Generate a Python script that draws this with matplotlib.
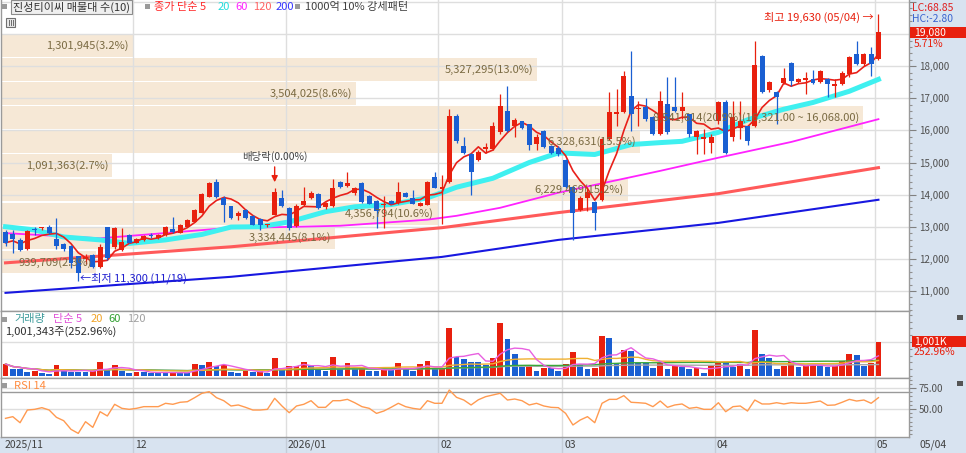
import numpy as np
import pandas as pd
import matplotlib
matplotlib.use("Agg")
import matplotlib.pyplot as plt
import matplotlib.transforms as mtransforms
from matplotlib.patches import Rectangle
from matplotlib.ticker import FuncFormatter, MultipleLocator, FixedLocator

plt.rcParams["font.family"] = ["Noto Sans CJK KR", "DejaVu Sans"]

W, H = 966, 453

# === 일봉 데이터 (2025/11/05 ~ 2026/05/04) ===
opens = [12830, 12780, 12590, 12300, 12920, 12950, 13000, 12620, 12470, 12400,
         12090, 12010, 12120, 11740, 13000, 12380, 12280, 12750, 12500, 12600,
         12740, 12650, 12750, 12940, 12820, 13000, 13160, 13440, 13940, 14400,
         13900, 13630, 13340, 13530, 13340, 13250, 13040, 13380, 13900, 13590,
         13030, 13690, 13900, 14030, 13600, 13630, 14400, 14280, 14060, 14370,
         13970, 13810, 13680, 13810, 13750, 14060, 13900, 13660, 13690, 14560,
         14160, 14400, 16440, 15500, 15250, 15090, 15410, 15410, 15940, 16590,
         16130, 16280, 16190, 15590, 15970, 15500, 15440, 15090, 14250, 13530,
         13910, 13780, 13840, 15720, 16500, 16560, 17060, 16660, 16720, 16410,
         15880, 16810, 16720, 16600, 16500, 15810, 15720, 15620, 16300, 16880,
         15780, 16090, 16130, 16130, 18310, 17250, 17190, 17470, 18090, 17500,
         17560, 17590, 17500, 17590, 17380, 17440, 17750, 18370, 18060, 18370,
         18220]
highs = [12900, 12900, 12650, 12900, 13000, 13000, 13050, 13280, 12500, 12420,
         12100, 12150, 12150, 12450, 13000, 13000, 12970, 12780, 12650, 12750,
         12800, 12780, 13020, 13310, 13080, 13250, 13560, 14060, 14400, 14500,
         13950, 13660, 13500, 13560, 13360, 13270, 13100, 14200, 14150, 13600,
         13700, 14250, 14100, 14060, 13780, 14500, 14420, 14720, 14250, 14400,
         14000, 13830, 13950, 13840, 14400, 14080, 14150, 13780, 14420, 14700,
         14600, 16660, 16500, 15800, 15300, 15400, 15600, 16250, 17125, 17380,
         16400, 16300, 16210, 15880, 16000, 15550, 15500, 15120, 14280, 13950,
         14250, 13800, 15750, 17190, 17280, 17840, 18470, 16910, 17000, 16450,
         17220, 17650, 17660, 17190, 16520, 16000, 16030, 15880, 16910, 16950,
         16910, 16910, 16150, 18780, 18340, 17550, 17220, 17940, 18120, 17620,
         17810, 17870, 17870, 17620, 17590, 17840, 18310, 18780, 18400, 18590,
         19630]
lows = [12400, 12190, 12250, 12280, 12750, 12900, 12780, 12300, 12250, 11720,
        11300, 11850, 11700, 11720, 11950, 12300, 12250, 12480, 12480, 12550,
        12650, 12620, 12720, 12820, 12800, 12980, 13140, 13420, 13920, 13900,
        13160, 13250, 13200, 13250, 13040, 12900, 12980, 13350, 13600, 12900,
        13000, 13650, 13850, 13560, 13550, 13600, 14200, 14250, 14000, 13750,
        13700, 12970, 12970, 13700, 13720, 13920, 13700, 13640, 13670, 14200,
        13100, 14350, 15600, 15280, 14000, 15050, 15300, 15380, 15900, 15950,
        15800, 16050, 15400, 15400, 15450, 15280, 15200, 14200, 12590, 13500,
        13500, 12900, 13800, 15700, 16130, 16540, 15970, 16130, 16300, 15850,
        15850, 15900, 16580, 16340, 15780, 15250, 15250, 15310, 16200, 15250,
        15660, 15720, 15560, 16100, 17150, 17200, 16190, 17440, 17380, 17480,
        17120, 17440, 17480, 17030, 17030, 17420, 17670, 18030, 18000, 17690,
        18200]
closes = [12500, 12620, 12280, 12880, 12890, 12980, 12810, 12400, 12310, 11870,
          11560, 12050, 11750, 12380, 12030, 12970, 12530, 12500, 12620, 12700,
          12710, 12740, 13000, 12840, 13060, 13220, 13530, 14030, 14370, 13940,
          13690, 13280, 13440, 13280, 13060, 13060, 13080, 14090, 13630, 12970,
          13660, 13810, 14060, 13590, 13750, 14220, 14250, 14370, 14220, 13780,
          13720, 13500, 13700, 13720, 14090, 13940, 13720, 13750, 14400, 14220,
          14250, 16440, 15660, 15310, 14690, 15340, 15470, 16130, 16750, 15970,
          16310, 16090, 15560, 15780, 15470, 15310, 15250, 14250, 13440, 13910,
          14090, 13440, 15720, 16560, 16560, 17690, 16500, 16690, 16340, 15880,
          16910, 15940, 16600, 16720, 15880, 15970, 15810, 15810, 16900, 15310,
          16410, 16280, 15660, 18030, 17190, 17500, 17030, 17630, 17530, 17590,
          17630, 17470, 17840, 17440, 17440, 17780, 18280, 18060, 18370, 18060,
          19080]

# 거래량 (천주)
volumes_k = [353, 206, 196, 127, 157, 78, 59, 314, 157, 127,
             118, 108, 176, 402, 196, 323, 147, 78, 127, 110,
             100, 96, 92, 108, 98, 80, 343, 323, 402, 304,
             323, 127, 78, 147, 127, 147, 98, 520, 196, 294,
             300, 402, 323, 206, 157, 549, 206, 372, 206, 225,
             147, 145, 196, 176, 372, 206, 147, 343, 441, 196,
             216, 1421, 568, 500, 421, 402, 323, 520, 1548, 1078,
             637, 255, 304, 147, 245, 225, 157, 343, 715, 323,
             206, 245, 1186, 1107, 372, 764, 735, 392, 390, 245,
             392, 206, 294, 274, 206, 225, 78, 304, 392, 372,
             274, 353, 206, 1352, 637, 520, 206, 304, 402, 274,
             304, 310, 300, 274, 280, 441, 647, 617, 304, 396,
             1001]

rsi14 = [38.9, 40.9, 33.7, 48.8, 49.6, 51.6, 48.8, 40.1, 36.1, 25.8,
         21.0, 34.9, 28.2, 46.8, 41.7, 55.6, 50.8, 49.6, 50.8, 52.8,
         52.8, 52.8, 56.8, 55.6, 58.0, 58.7, 63.5, 68.7, 70.6, 63.5,
         59.9, 53.6, 54.8, 52.0, 48.8, 48.8, 49.6, 62.7, 53.6, 45.6,
         53.6, 55.6, 59.9, 52.0, 52.0, 59.9, 59.9, 61.5, 57.5, 52.8,
         50.8, 44.8, 47.6, 52.0, 56.8, 52.8, 50.8, 49.6, 59.9, 56.8,
         56.8, 72.6, 63.9, 60.7, 54.8, 61.0, 64.7, 66.7, 68.7, 60.7,
         61.9, 59.9, 54.8, 56.8, 53.6, 52.0, 51.6, 44.8, 31.0, 36.9,
         40.9, 33.7, 56.8, 61.5, 61.5, 65.9, 58.0, 57.5, 56.8, 52.8,
         59.5, 52.0, 54.8, 56.0, 50.8, 52.0, 49.6, 49.6, 57.5, 46.8,
         52.8, 53.6, 47.6, 60.7, 56.0, 56.0, 57.5, 56.0, 57.5, 56.8,
         56.8, 58.0, 59.5, 54.4, 54.8, 58.0, 61.5, 59.5, 60.7, 56.8,
         63.5]

# 이동평균선 (그림에서 읽은 값: 봉 번호, 가격)
ma20_idx = [0, 4, 8, 13, 17, 22, 27, 31, 35, 39, 44, 48, 53, 58, 62, 67, 72, 76,
            81, 86, 90, 93, 98, 102, 107, 111, 116, 120]
ma20_val = [13000, 12900, 12680, 12590, 12480, 12590, 12760, 12990, 13000, 13150,
            13470, 13620, 13690, 13900, 14230, 14510, 15000, 15300, 15250, 15560,
            15620, 15660, 15940, 16330, 16660, 16870, 17220, 17590]
ma60_idx = [0, 13, 30, 46, 58, 62, 68, 76, 90, 98, 108, 120]
ma60_val = [12800, 12640, 12950, 13030, 13220, 13340, 13590, 14060, 14740, 15150,
            15640, 16350]
ma120_idx = [0, 31, 60, 76, 98, 120]
ma120_val = [11875, 12375, 12970, 13440, 14030, 14840]
ma200_idx = [0, 31, 60, 76, 98, 120]
ma200_val = [10940, 11440, 12060, 12590, 13120, 13840]

# 매물대 (10개 구간)
band_tops = [19000, 18250, 17500, 16750, 16000, 15250, 14500, 13750, 13000, 12250]
band_pct = [3.2, 13.0, 8.6, 20.9, 15.5, 2.7, 15.2, 10.6, 8.1, 2.3]
band_labels = ["1,301,945(3.2%)", "5,327,295(13.0%)", "3,504,025(8.6%)",
               "8,541,614(20.9%)(16,321.00 ~ 16,068.00)", "6,328,631(15.5%)",
               "1,091,363(2.7%)", "6,229,469(15.2%)", "4,356,794(10.6%)",
               "3,334,445(8.1%)", "939,709(2.3%)"]

month_starts = [0, 18, 39, 60, 77, 98, 120]
month_labels = ["2025/11", "12", "2026/01", "02", "03", "04", "05"]

RED = "#e8200e"
BLUE = "#1a5fd2"
GRID = "#dedede"
SIDE = "#d8e3f0"


def fig_box(x0, y0, x1, y1):
    return [x0 / W, 1 - y1 / H, (x1 - x0) / W, (y1 - y0) / H]


def ftext(fig, x, y, s, **kw):
    kw.setdefault("va", "center")
    kw.setdefault("fontsize", 7.5)
    return fig.text(x / W, 1 - y / H, s, **kw)


def frect(fig, x0, y0, x1, y1, **kw):
    r = Rectangle((x0 / W, 1 - y1 / H), (x1 - x0) / W, (y1 - y0) / H,
                  transform=fig.transFigure, **kw)
    fig.add_artist(r)
    return r


def style_axes(ax, xlim):
    ax.set_xlim(*xlim)
    ax.yaxis.tick_right()
    ax.tick_params(axis="x", bottom=False, labelbottom=False)
    ax.tick_params(axis="y", which="major", length=5, width=0.8, colors="#808080",
                   labelcolor="#505050", labelsize=7, pad=2)
    ax.tick_params(axis="y", which="minor", length=2, width=0.8, colors="#909090")
    for s in ax.spines.values():
        s.set_color("#9a9a9a")
        s.set_linewidth(1)
    for m in month_starts[1:]:
        ax.axvline(m - 0.5, color=GRID, lw=1, zorder=1)


def main():
    idx = np.arange(len(closes))
    o = np.array(opens)
    c = np.array(closes)
    up = c >= o
    cols = np.where(up, RED, BLUE)
    xlim = (-0.62, 124.2)

    fig = plt.figure(figsize=(W / 100, H / 100), dpi=100)
    fig.patch.set_facecolor("white")

    # 배경 (오른쪽 축, 날짜 줄)
    frect(fig, 909, 0, W, H, facecolor=SIDE, edgecolor="none", zorder=-5)
    frect(fig, 0, 437, W, H, facecolor=SIDE, edgecolor="none", zorder=-5)

    ax = fig.add_axes(fig_box(1, 0, 909, 311))
    ax_v = fig.add_axes(fig_box(1, 311, 909, 378))
    ax_r = fig.add_axes(fig_box(1, 378, 909, 437))

    # === 가격 차트 ===
    style_axes(ax, xlim)
    ax.set_ylim(10375, 20062)
    ax.spines["top"].set_visible(False)
    ax.yaxis.set_major_locator(MultipleLocator(1000))
    ax.yaxis.set_minor_locator(MultipleLocator(200))
    ax.yaxis.set_major_formatter(FuncFormatter(lambda v, p: f"{v:,.0f}" if v < 18500 else ""))
    ax.grid(axis="y", which="major", color=GRID, lw=1, zorder=1)

    # 매물대
    btrans = mtransforms.blended_transform_factory(ax.transAxes, ax.transData)
    full = (863 - 1) / 908
    for top, pct, lab in zip(band_tops, band_pct, band_labels):
        wdt = pct / max(band_pct) * full
        ax.add_patch(Rectangle((0, top - 700), wdt, 700, transform=btrans,
                               facecolor="#f6e8d6", edgecolor="none", zorder=0.5))
        ax.text(wdt - 4 / 908, top - 350, lab, transform=btrans, ha="right", va="center",
                fontsize=8, color="#7a6a42", zorder=10)

    # 이동평균선
    ma5 = pd.Series(closes).rolling(5, min_periods=1).mean()
    ax.plot(ma200_idx, ma200_val, color="#1818e0", lw=1.5, zorder=2)
    ax.plot(ma120_idx, ma120_val, color="#ff5a5a", lw=2.2, zorder=2)
    ax.plot(ma60_idx, ma60_val, color="#ff22ff", lw=1.3, zorder=2)
    ax.plot(ma20_idx, ma20_val, color="#3ff0f0", lw=3.6, zorder=2.2)
    ax.plot(idx, ma5, color="#e8201a", lw=1.2, zorder=3.6)

    # 캔들
    ax.vlines(idx, lows, highs, colors=cols, lw=0.9, zorder=4)
    ax.bar(idx, np.maximum(np.abs(c - o), 35), bottom=np.minimum(o, c), width=0.68,
           color=cols, edgecolor="none", zorder=4.2)

    # 배당락 표시
    ax.annotate("", xy=(37, 14300), xytext=(37, 14950),
                arrowprops=dict(arrowstyle="-|>", color=RED, lw=1, mutation_scale=9), zorder=6)
    ax.text(37, 15180, "배당락(0.00%)", ha="center", va="center", fontsize=7.5,
            color="#404040", zorder=10)

    # === 거래량 ===
    style_axes(ax_v, xlim)
    ax_v.set_ylim(-59, 1914)
    ax_v.yaxis.set_major_locator(FixedLocator([1000]))
    ax_v.yaxis.set_minor_locator(MultipleLocator(200))
    ax_v.yaxis.set_major_formatter(FuncFormatter(lambda v, p: ""))
    ax_v.grid(axis="y", which="major", color=GRID, lw=1, zorder=1)
    vol = np.array(volumes_k)
    vcols = [RED] + [RED if vol[i] >= vol[i - 1] else BLUE for i in range(1, len(vol))]
    ax_v.bar(idx, vol, width=0.8, color=vcols, edgecolor="none", zorder=3)
    vs = pd.Series(volumes_k)
    for n, colr in [(120, "#a8a8a8"), (60, "#3aa83a"), (20, "#f0b030"), (5, "#e860e0")]:
        ax_v.plot(idx, vs.rolling(n, min_periods=1).mean(), color=colr, lw=1, zorder=4)

    # === RSI ===
    style_axes(ax_r, xlim)
    ax_r.set_ylim(16.7, 86.9)
    ax_r.yaxis.set_major_locator(FixedLocator([50, 75]))
    ax_r.yaxis.set_minor_locator(MultipleLocator(5))
    ax_r.yaxis.set_major_formatter(FuncFormatter(lambda v, p: f"{v:.2f}"))
    ax_r.grid(axis="y", which="major", color=GRID, lw=1, zorder=1)
    ax_r.axhline(70, color="#9a9a9a", lw=1, zorder=1.5)
    ax_r.plot(idx, rsi14, color="#ff9a50", lw=1, zorder=3)

    # === 날짜 ===
    dtrans = mtransforms.blended_transform_factory(ax_r.transData, fig.transFigure)
    for m, lab in zip(month_starts, month_labels):
        xm = m - 0.5
        if m > 0:
            ax_r.plot([xm, xm], [1 - 453 / H, 1 - 437 / H], transform=dtrans,
                      color="#c4cdd8", lw=1, clip_on=False)
        ax_r.text(max(xm, xlim[0]) + 0.3, 1 - 445 / H, lab, transform=dtrans,
                  ha="left", va="center", fontsize=7.5, color="#404040")
    ftext(fig, 920, 445, "05/04", color="#404040")

    # === 범례 / 텍스트 ===
    frect(fig, 2, 4, 7, 9, facecolor="#9a9a9a", edgecolor="none")
    ftext(fig, 13, 7, "진성티이씨 매물대 수(10)", color="#333333", fontsize=8,
          bbox=dict(boxstyle="square,pad=0.15", facecolor="#efefef", edgecolor="#8c8c8c", lw=0.8))
    frect(fig, 145, 4, 150, 9, facecolor="#9a9a9a", edgecolor="none")
    ftext(fig, 154, 7, "종가 단순 5", color="#ff2a2a", fontsize=8)
    ftext(fig, 218, 7, "20", color="#22dcdc", fontsize=8)
    ftext(fig, 235, 7, "60", color="#ff22ff", fontsize=8)
    ftext(fig, 253, 7, "120", color="#ff6262", fontsize=8)
    ftext(fig, 276, 7, "200", color="#3535ff", fontsize=8)
    frect(fig, 295, 4, 300, 9, facecolor="#9a9a9a", edgecolor="none")
    ftext(fig, 305, 7, "1000억 10% 강세패턴", color="#404040", fontsize=8)
    frect(fig, 6, 18, 15, 27, facecolor="#e8e8e8", edgecolor="#707070", lw=0.8)
    for xx in (9, 11, 13):
        frect(fig, xx, 20, xx + 0.6, 26, facecolor="#707070", edgecolor="none")

    ftext(fig, 874, 17, "최고 19,630 (05/04) →", color=RED, ha="right", fontsize=8)
    ftext(fig, 80, 278, "←최저 11,300 (11/19)", color="#2020d0", fontsize=8)

    ftext(fig, 912, 8, "LC:68.85", color="#e02020", fontsize=7.5)
    ftext(fig, 912, 19, "HC:-2.80", color="#3a64d0", fontsize=7.5)
    frect(fig, 910, 27, W, 38, facecolor=RED, edgecolor="none")
    ftext(fig, 914, 32.5, "19,080", color="white", fontsize=7.5)
    ftext(fig, 914, 44, "5.71%", color=RED, fontsize=7.5)

    frect(fig, 2, 317, 7, 322, facecolor="#9a9a9a", edgecolor="none")
    ftext(fig, 14, 319, "거래량", color="#3f9c9c", fontsize=8)
    ftext(fig, 53, 319, "단순 5", color="#e050d8", fontsize=8)
    ftext(fig, 91, 319, "20", color="#f0a428", fontsize=8)
    ftext(fig, 108, 319, "60", color="#30a030", fontsize=8)
    ftext(fig, 127, 319, "120", color="#a0a0a0", fontsize=8)
    ftext(fig, 5, 332, "1,001,343주(252.96%)", color="#303030", fontsize=8)
    frect(fig, 912, 336, W, 347, facecolor=RED, edgecolor="none")
    ftext(fig, 914, 341.5, "1,001K", color="white", fontsize=7.5)
    ftext(fig, 914, 352, "252.96%", color=RED, fontsize=7.5)
    frect(fig, 957, 315, 963, 320, facecolor="#555555", edgecolor="none")

    frect(fig, 2, 383, 7, 388, facecolor="#9a9a9a", edgecolor="none")
    ftext(fig, 14, 386, "RSI 14", color="#ff8c40", fontsize=8)
    frect(fig, 957, 381, 963, 386, facecolor="#555555", edgecolor="none")

    fig.savefig("out.png", dpi=100)


if __name__ == "__main__":
    main()
